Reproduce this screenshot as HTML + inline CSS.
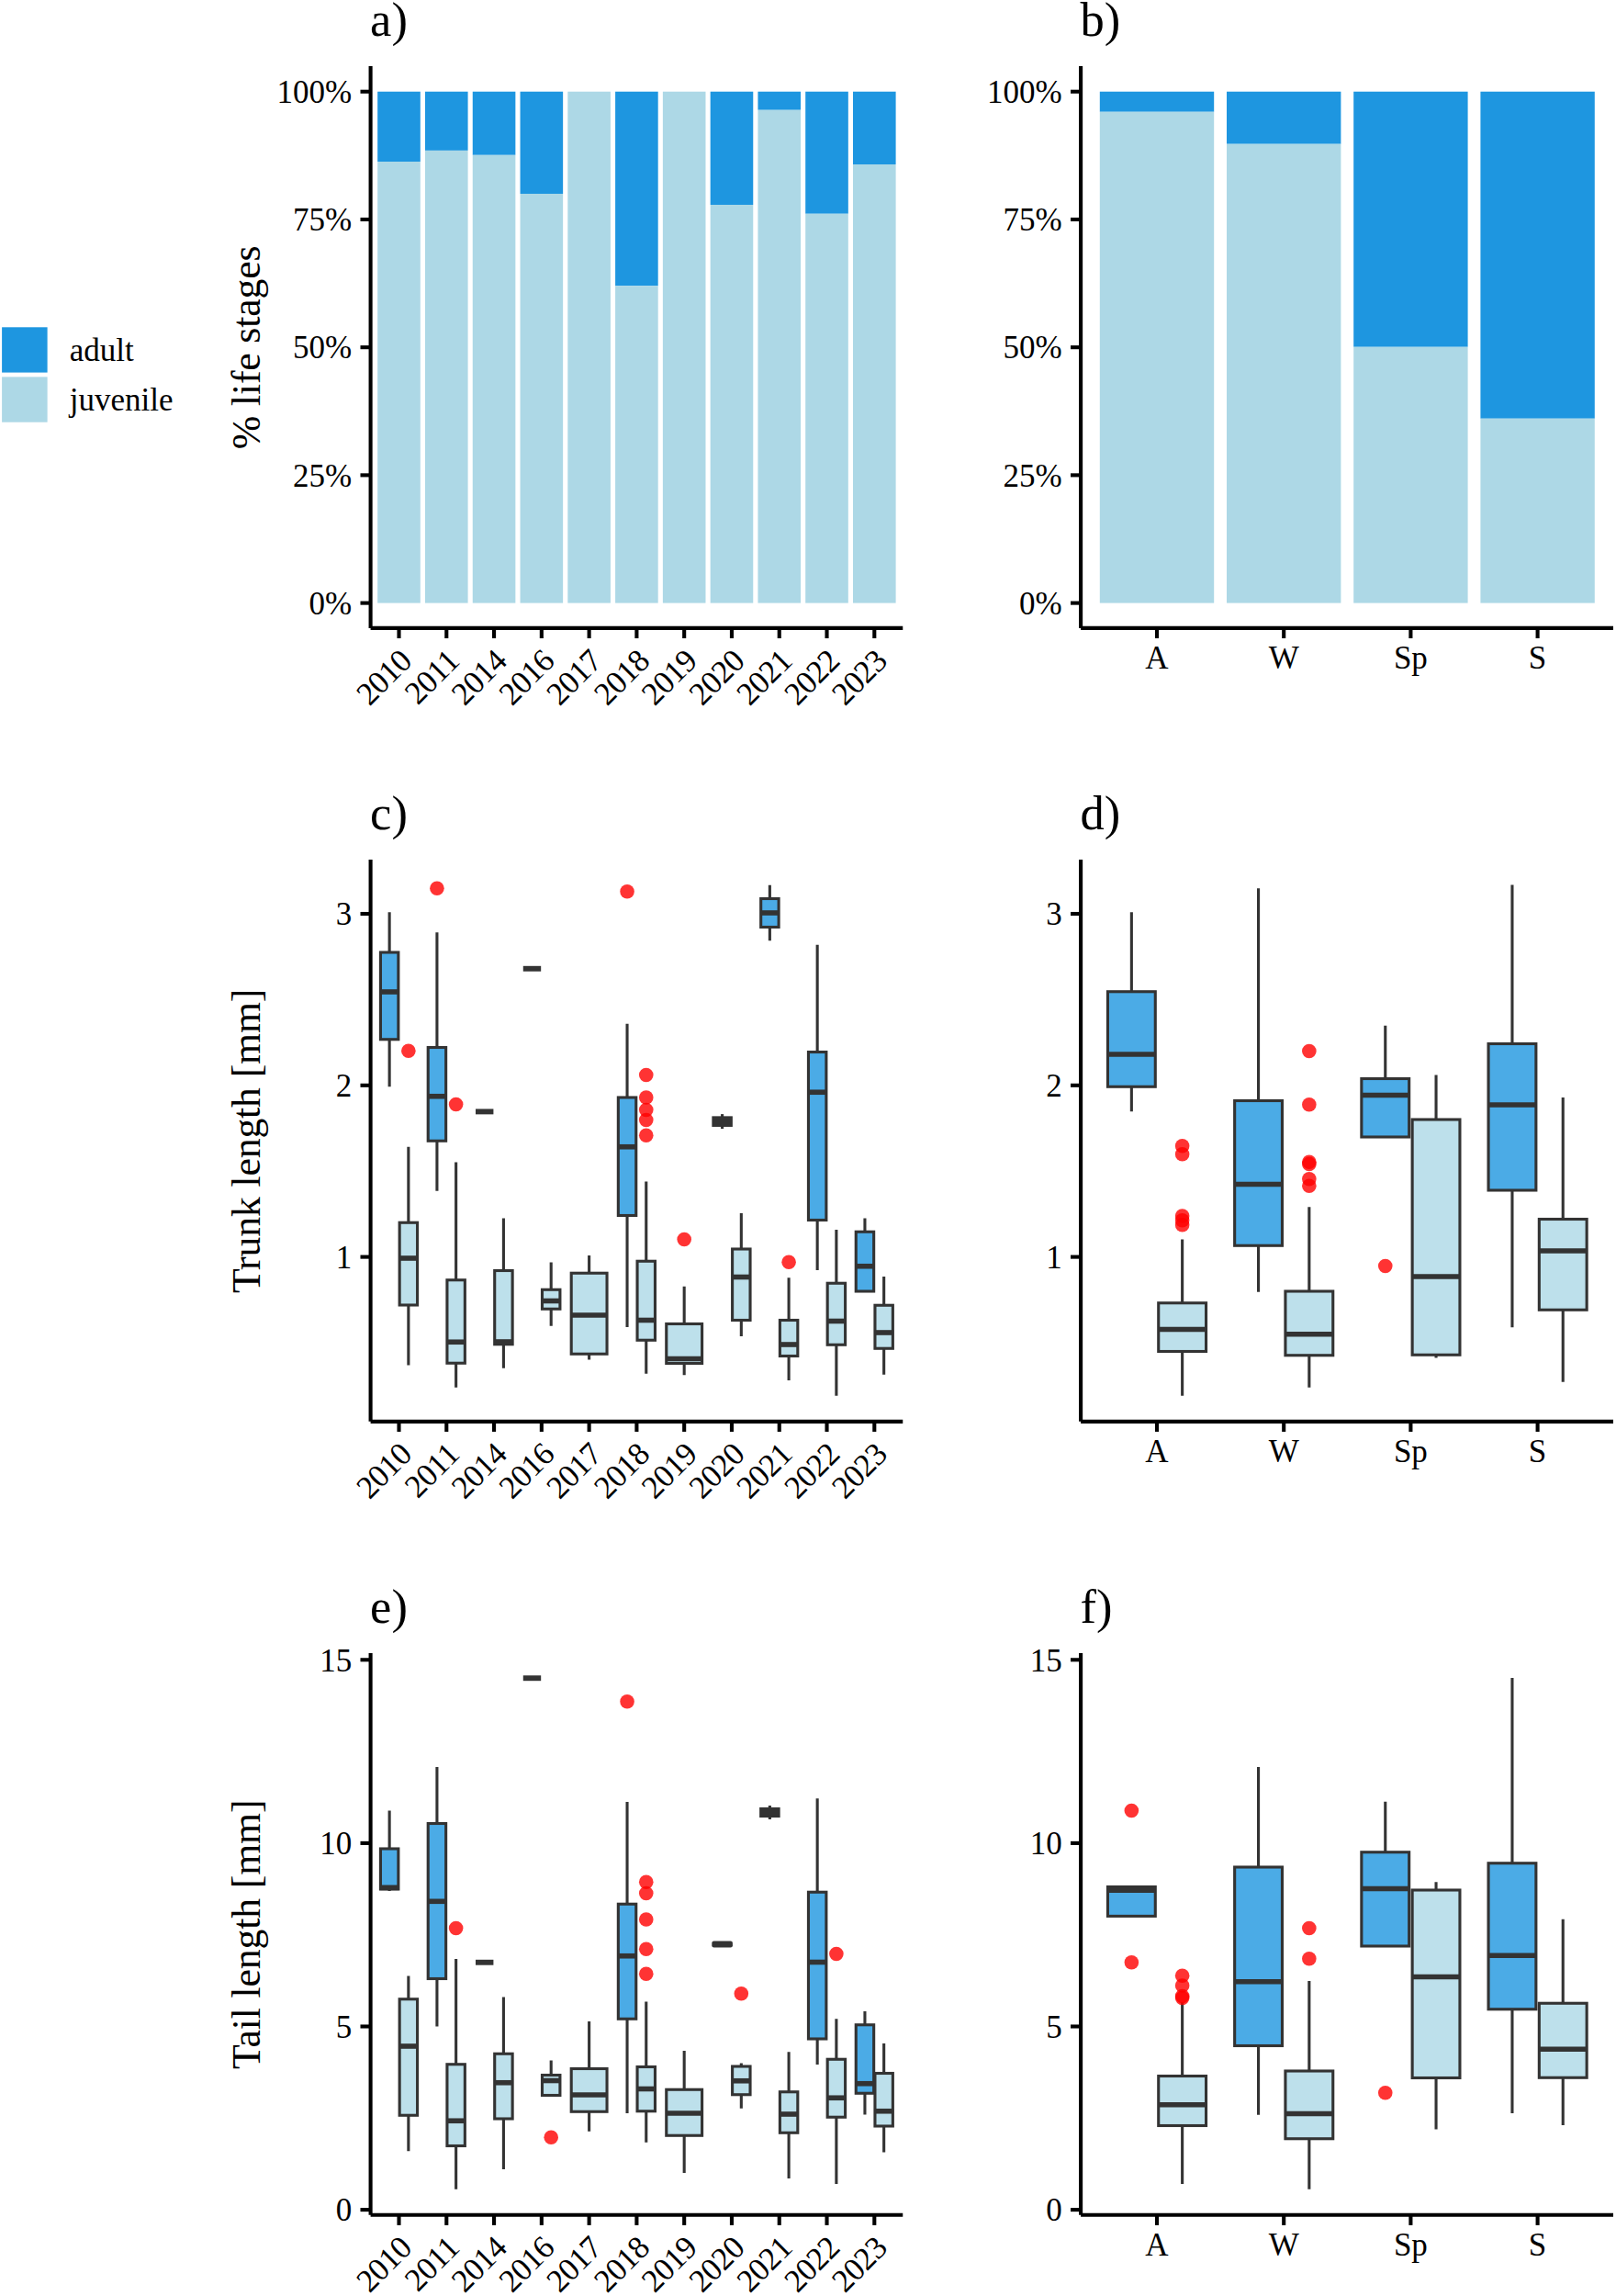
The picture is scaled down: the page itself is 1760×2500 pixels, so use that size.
<!DOCTYPE html>
<html lang="en"><head><meta charset="utf-8"><title>Life stages, trunk length and tail length by year and season</title>
<style>html,body{margin:0;padding:0;background:#fff}body{width:1760px;height:2500px;overflow:hidden}svg{display:block}text{font-family:'Liberation Serif', 'Times New Roman', serif;fill:#000}</style>
</head><body>
<svg width="1760" height="2500" viewBox="0 0 1760 2500">
<rect x="0" y="0" width="1760" height="2500" fill="#fff"/>
<rect x="2.1" y="356.3" width="49.5" height="49.3" fill="#1E96E0"/>
<rect x="2.1" y="410.4" width="49.5" height="49.3" fill="#ADD8E6"/>
<text x="75.8" y="392.9" font-size="35" text-anchor="start">adult</text>
<text x="75.8" y="446.5" font-size="35" text-anchor="start">juvenile</text>
<text x="403.1" y="39.3" font-size="52.5" text-anchor="start">a)</text>
<text x="1176.6" y="39.3" font-size="52.5" text-anchor="start">b)</text>
<text x="403.1" y="903.3" font-size="52.5" text-anchor="start">c)</text>
<text x="1176.6" y="903.3" font-size="52.5" text-anchor="start">d)</text>
<text x="403.1" y="1767.3" font-size="52.5" text-anchor="start">e)</text>
<text x="1176.6" y="1767.3" font-size="52.5" text-anchor="start">f)</text>
<text x="282.6" y="378.4" font-size="43.75" text-anchor="middle" letter-spacing="-0.15" transform="rotate(-90 282.6 378.4)">% life stages</text>
<text x="282.6" y="1242.38" font-size="43.75" text-anchor="middle" letter-spacing="-0.15" transform="rotate(-90 282.6 1242.38)">Trunk length [mm]</text>
<text x="282.6" y="2106.35" font-size="43.75" text-anchor="middle" letter-spacing="-0.15" transform="rotate(-90 282.6 2106.35)">Tail length [mm]</text>
<rect x="411.2" y="99.75" width="46.6" height="76.25" fill="#1E96E0"/>
<rect x="411.2" y="176" width="46.6" height="480.6" fill="#ADD8E6"/>
<rect x="462.98" y="99.75" width="46.6" height="64.15" fill="#1E96E0"/>
<rect x="462.98" y="163.9" width="46.6" height="492.7" fill="#ADD8E6"/>
<rect x="514.76" y="99.75" width="46.6" height="69.05" fill="#1E96E0"/>
<rect x="514.76" y="168.8" width="46.6" height="487.8" fill="#ADD8E6"/>
<rect x="566.54" y="99.75" width="46.6" height="111.25" fill="#1E96E0"/>
<rect x="566.54" y="211" width="46.6" height="445.6" fill="#ADD8E6"/>
<rect x="618.32" y="99.75" width="46.6" height="556.85" fill="#ADD8E6"/>
<rect x="670.1" y="99.75" width="46.6" height="211.5" fill="#1E96E0"/>
<rect x="670.1" y="311.25" width="46.6" height="345.35" fill="#ADD8E6"/>
<rect x="721.88" y="99.75" width="46.6" height="556.85" fill="#ADD8E6"/>
<rect x="773.66" y="99.75" width="46.6" height="123.25" fill="#1E96E0"/>
<rect x="773.66" y="223" width="46.6" height="433.6" fill="#ADD8E6"/>
<rect x="825.44" y="99.75" width="46.6" height="20" fill="#1E96E0"/>
<rect x="825.44" y="119.75" width="46.6" height="536.85" fill="#ADD8E6"/>
<rect x="877.22" y="99.75" width="46.6" height="133" fill="#1E96E0"/>
<rect x="877.22" y="232.75" width="46.6" height="423.85" fill="#ADD8E6"/>
<rect x="929" y="99.75" width="46.6" height="79.25" fill="#1E96E0"/>
<rect x="929" y="179" width="46.6" height="477.6" fill="#ADD8E6"/>
<line x1="403.6" y1="72.1" x2="403.6" y2="683.9" stroke="#000" stroke-width="4.1" stroke-linecap="butt"/>
<line x1="403.6" y1="683.9" x2="983.25" y2="683.9" stroke="#000" stroke-width="4.1" stroke-linecap="butt"/>
<line x1="392.5" y1="656.6" x2="403.6" y2="656.6" stroke="#000" stroke-width="4.1" stroke-linecap="butt"/>
<text x="383.2" y="668.8" font-size="35" text-anchor="end">0%</text>
<line x1="392.5" y1="517.39" x2="403.6" y2="517.39" stroke="#000" stroke-width="4.1" stroke-linecap="butt"/>
<text x="383.2" y="529.59" font-size="35" text-anchor="end">25%</text>
<line x1="392.5" y1="378.18" x2="403.6" y2="378.18" stroke="#000" stroke-width="4.1" stroke-linecap="butt"/>
<text x="383.2" y="390.38" font-size="35" text-anchor="end">50%</text>
<line x1="392.5" y1="238.96" x2="403.6" y2="238.96" stroke="#000" stroke-width="4.1" stroke-linecap="butt"/>
<text x="383.2" y="251.16" font-size="35" text-anchor="end">75%</text>
<line x1="392.5" y1="99.75" x2="403.6" y2="99.75" stroke="#000" stroke-width="4.1" stroke-linecap="butt"/>
<text x="383.2" y="111.95" font-size="35" text-anchor="end">100%</text>
<line x1="434.5" y1="683.9" x2="434.5" y2="695" stroke="#000" stroke-width="4.1" stroke-linecap="butt"/>
<text x="450.2" y="721.7" font-size="35" text-anchor="end" letter-spacing="-0.6" transform="rotate(-45 450.2 721.7)">2010</text>
<line x1="486.28" y1="683.9" x2="486.28" y2="695" stroke="#000" stroke-width="4.1" stroke-linecap="butt"/>
<text x="501.98" y="721.7" font-size="35" text-anchor="end" letter-spacing="-0.6" transform="rotate(-45 501.98 721.7)">2011</text>
<line x1="538.06" y1="683.9" x2="538.06" y2="695" stroke="#000" stroke-width="4.1" stroke-linecap="butt"/>
<text x="553.76" y="721.7" font-size="35" text-anchor="end" letter-spacing="-0.6" transform="rotate(-45 553.76 721.7)">2014</text>
<line x1="589.84" y1="683.9" x2="589.84" y2="695" stroke="#000" stroke-width="4.1" stroke-linecap="butt"/>
<text x="605.54" y="721.7" font-size="35" text-anchor="end" letter-spacing="-0.6" transform="rotate(-45 605.54 721.7)">2016</text>
<line x1="641.62" y1="683.9" x2="641.62" y2="695" stroke="#000" stroke-width="4.1" stroke-linecap="butt"/>
<text x="657.32" y="721.7" font-size="35" text-anchor="end" letter-spacing="-0.6" transform="rotate(-45 657.32 721.7)">2017</text>
<line x1="693.4" y1="683.9" x2="693.4" y2="695" stroke="#000" stroke-width="4.1" stroke-linecap="butt"/>
<text x="709.1" y="721.7" font-size="35" text-anchor="end" letter-spacing="-0.6" transform="rotate(-45 709.1 721.7)">2018</text>
<line x1="745.18" y1="683.9" x2="745.18" y2="695" stroke="#000" stroke-width="4.1" stroke-linecap="butt"/>
<text x="760.88" y="721.7" font-size="35" text-anchor="end" letter-spacing="-0.6" transform="rotate(-45 760.88 721.7)">2019</text>
<line x1="796.96" y1="683.9" x2="796.96" y2="695" stroke="#000" stroke-width="4.1" stroke-linecap="butt"/>
<text x="812.66" y="721.7" font-size="35" text-anchor="end" letter-spacing="-0.6" transform="rotate(-45 812.66 721.7)">2020</text>
<line x1="848.74" y1="683.9" x2="848.74" y2="695" stroke="#000" stroke-width="4.1" stroke-linecap="butt"/>
<text x="864.44" y="721.7" font-size="35" text-anchor="end" letter-spacing="-0.6" transform="rotate(-45 864.44 721.7)">2021</text>
<line x1="900.52" y1="683.9" x2="900.52" y2="695" stroke="#000" stroke-width="4.1" stroke-linecap="butt"/>
<text x="916.22" y="721.7" font-size="35" text-anchor="end" letter-spacing="-0.6" transform="rotate(-45 916.22 721.7)">2022</text>
<line x1="952.3" y1="683.9" x2="952.3" y2="695" stroke="#000" stroke-width="4.1" stroke-linecap="butt"/>
<text x="968" y="721.7" font-size="35" text-anchor="end" letter-spacing="-0.6" transform="rotate(-45 968 721.7)">2023</text>
<rect x="1197.81" y="99.75" width="124.38" height="22" fill="#1E96E0"/>
<rect x="1197.81" y="121.75" width="124.38" height="534.85" fill="#ADD8E6"/>
<rect x="1336.01" y="99.75" width="124.38" height="57" fill="#1E96E0"/>
<rect x="1336.01" y="156.75" width="124.38" height="499.85" fill="#ADD8E6"/>
<rect x="1474.21" y="99.75" width="124.38" height="278" fill="#1E96E0"/>
<rect x="1474.21" y="377.75" width="124.38" height="278.85" fill="#ADD8E6"/>
<rect x="1612.41" y="99.75" width="124.38" height="356" fill="#1E96E0"/>
<rect x="1612.41" y="455.75" width="124.38" height="200.85" fill="#ADD8E6"/>
<line x1="1177.1" y1="72.1" x2="1177.1" y2="683.9" stroke="#000" stroke-width="4.1" stroke-linecap="butt"/>
<line x1="1177.1" y1="683.9" x2="1757" y2="683.9" stroke="#000" stroke-width="4.1" stroke-linecap="butt"/>
<line x1="1166" y1="656.6" x2="1177.1" y2="656.6" stroke="#000" stroke-width="4.1" stroke-linecap="butt"/>
<text x="1156.7" y="668.8" font-size="35" text-anchor="end">0%</text>
<line x1="1166" y1="517.39" x2="1177.1" y2="517.39" stroke="#000" stroke-width="4.1" stroke-linecap="butt"/>
<text x="1156.7" y="529.59" font-size="35" text-anchor="end">25%</text>
<line x1="1166" y1="378.18" x2="1177.1" y2="378.18" stroke="#000" stroke-width="4.1" stroke-linecap="butt"/>
<text x="1156.7" y="390.38" font-size="35" text-anchor="end">50%</text>
<line x1="1166" y1="238.96" x2="1177.1" y2="238.96" stroke="#000" stroke-width="4.1" stroke-linecap="butt"/>
<text x="1156.7" y="251.16" font-size="35" text-anchor="end">75%</text>
<line x1="1166" y1="99.75" x2="1177.1" y2="99.75" stroke="#000" stroke-width="4.1" stroke-linecap="butt"/>
<text x="1156.7" y="111.95" font-size="35" text-anchor="end">100%</text>
<line x1="1260" y1="683.9" x2="1260" y2="695" stroke="#000" stroke-width="4.1" stroke-linecap="butt"/>
<text x="1260" y="727.8" font-size="35" text-anchor="middle">A</text>
<line x1="1398.2" y1="683.9" x2="1398.2" y2="695" stroke="#000" stroke-width="4.1" stroke-linecap="butt"/>
<text x="1398.2" y="727.8" font-size="35" text-anchor="middle">W</text>
<line x1="1536.4" y1="683.9" x2="1536.4" y2="695" stroke="#000" stroke-width="4.1" stroke-linecap="butt"/>
<text x="1536.4" y="727.8" font-size="35" text-anchor="middle">Sp</text>
<line x1="1674.6" y1="683.9" x2="1674.6" y2="695" stroke="#000" stroke-width="4.1" stroke-linecap="butt"/>
<text x="1674.6" y="727.8" font-size="35" text-anchor="middle">S</text>
<line x1="424.14" y1="993.25" x2="424.14" y2="1037" stroke="#333333" stroke-width="3.1" stroke-linecap="butt"/>
<line x1="424.14" y1="1131.75" x2="424.14" y2="1183.25" stroke="#333333" stroke-width="3.1" stroke-linecap="butt"/>
<rect x="414.44" y="1037" width="19.42" height="94.75" fill="#1E96E0" fill-opacity="0.8" stroke="#333333" stroke-width="3.1" stroke-linejoin="miter"/>
<line x1="414.44" y1="1080" x2="433.85" y2="1080" stroke="#333333" stroke-width="5.6" stroke-linecap="butt"/>
<line x1="444.86" y1="1248.75" x2="444.86" y2="1331.25" stroke="#333333" stroke-width="3.1" stroke-linecap="butt"/>
<line x1="444.86" y1="1421" x2="444.86" y2="1486.5" stroke="#333333" stroke-width="3.1" stroke-linecap="butt"/>
<rect x="435.15" y="1331.25" width="19.42" height="89.75" fill="#ADD8E6" fill-opacity="0.8" stroke="#333333" stroke-width="3.1" stroke-linejoin="miter"/>
<line x1="435.15" y1="1370" x2="454.56" y2="1370" stroke="#333333" stroke-width="5.6" stroke-linecap="butt"/>
<circle cx="444.86" cy="1144.25" r="7.8" fill="#FF0000" fill-opacity="0.8"/>
<line x1="475.92" y1="1015.25" x2="475.92" y2="1140.5" stroke="#333333" stroke-width="3.1" stroke-linecap="butt"/>
<line x1="475.92" y1="1242.25" x2="475.92" y2="1296.75" stroke="#333333" stroke-width="3.1" stroke-linecap="butt"/>
<rect x="466.22" y="1140.5" width="19.42" height="101.75" fill="#1E96E0" fill-opacity="0.8" stroke="#333333" stroke-width="3.1" stroke-linejoin="miter"/>
<line x1="466.22" y1="1193.75" x2="485.63" y2="1193.75" stroke="#333333" stroke-width="5.6" stroke-linecap="butt"/>
<circle cx="475.92" cy="967.25" r="7.8" fill="#FF0000" fill-opacity="0.8"/>
<line x1="496.64" y1="1265.5" x2="496.64" y2="1393.75" stroke="#333333" stroke-width="3.1" stroke-linecap="butt"/>
<line x1="496.64" y1="1484.25" x2="496.64" y2="1510.75" stroke="#333333" stroke-width="3.1" stroke-linecap="butt"/>
<rect x="486.93" y="1393.75" width="19.42" height="90.5" fill="#ADD8E6" fill-opacity="0.8" stroke="#333333" stroke-width="3.1" stroke-linejoin="miter"/>
<line x1="486.93" y1="1461.25" x2="506.34" y2="1461.25" stroke="#333333" stroke-width="5.6" stroke-linecap="butt"/>
<circle cx="496.64" cy="1202.5" r="7.8" fill="#FF0000" fill-opacity="0.8"/>
<line x1="518" y1="1210.4" x2="537.41" y2="1210.4" stroke="#333333" stroke-width="5.9" stroke-linecap="butt"/>
<line x1="548.42" y1="1326.5" x2="548.42" y2="1383.5" stroke="#333333" stroke-width="3.1" stroke-linecap="butt"/>
<line x1="548.42" y1="1463.75" x2="548.42" y2="1489.75" stroke="#333333" stroke-width="3.1" stroke-linecap="butt"/>
<rect x="538.71" y="1383.5" width="19.42" height="80.25" fill="#ADD8E6" fill-opacity="0.8" stroke="#333333" stroke-width="3.1" stroke-linejoin="miter"/>
<line x1="538.71" y1="1461" x2="558.12" y2="1461" stroke="#333333" stroke-width="5.6" stroke-linecap="butt"/>
<line x1="569.78" y1="1054.75" x2="589.19" y2="1054.75" stroke="#333333" stroke-width="5.9" stroke-linecap="butt"/>
<line x1="600.2" y1="1374.5" x2="600.2" y2="1404.25" stroke="#333333" stroke-width="3.1" stroke-linecap="butt"/>
<line x1="600.2" y1="1425.25" x2="600.2" y2="1443.75" stroke="#333333" stroke-width="3.1" stroke-linecap="butt"/>
<rect x="590.49" y="1404.25" width="19.42" height="21" fill="#ADD8E6" fill-opacity="0.8" stroke="#333333" stroke-width="3.1" stroke-linejoin="miter"/>
<line x1="590.49" y1="1416.5" x2="609.9" y2="1416.5" stroke="#333333" stroke-width="5.6" stroke-linecap="butt"/>
<line x1="641.62" y1="1367" x2="641.62" y2="1386.25" stroke="#333333" stroke-width="3.1" stroke-linecap="butt"/>
<line x1="641.62" y1="1474.25" x2="641.62" y2="1480.5" stroke="#333333" stroke-width="3.1" stroke-linecap="butt"/>
<rect x="622.2" y="1386.25" width="38.84" height="88" fill="#ADD8E6" fill-opacity="0.8" stroke="#333333" stroke-width="3.1" stroke-linejoin="miter"/>
<line x1="622.2" y1="1432" x2="661.04" y2="1432" stroke="#333333" stroke-width="5.6" stroke-linecap="butt"/>
<line x1="683.04" y1="1114.75" x2="683.04" y2="1195" stroke="#333333" stroke-width="3.1" stroke-linecap="butt"/>
<line x1="683.04" y1="1323.5" x2="683.04" y2="1445" stroke="#333333" stroke-width="3.1" stroke-linecap="butt"/>
<rect x="673.34" y="1195" width="19.42" height="128.5" fill="#1E96E0" fill-opacity="0.8" stroke="#333333" stroke-width="3.1" stroke-linejoin="miter"/>
<line x1="673.34" y1="1248.75" x2="692.75" y2="1248.75" stroke="#333333" stroke-width="5.6" stroke-linecap="butt"/>
<circle cx="683.04" cy="970.75" r="7.8" fill="#FF0000" fill-opacity="0.8"/>
<line x1="703.76" y1="1286.5" x2="703.76" y2="1373.25" stroke="#333333" stroke-width="3.1" stroke-linecap="butt"/>
<line x1="703.76" y1="1459.25" x2="703.76" y2="1495.75" stroke="#333333" stroke-width="3.1" stroke-linecap="butt"/>
<rect x="694.05" y="1373.25" width="19.42" height="86" fill="#ADD8E6" fill-opacity="0.8" stroke="#333333" stroke-width="3.1" stroke-linejoin="miter"/>
<line x1="694.05" y1="1437.5" x2="713.46" y2="1437.5" stroke="#333333" stroke-width="5.6" stroke-linecap="butt"/>
<circle cx="703.76" cy="1170.5" r="7.8" fill="#FF0000" fill-opacity="0.8"/>
<circle cx="703.76" cy="1195" r="7.8" fill="#FF0000" fill-opacity="0.8"/>
<circle cx="703.76" cy="1208.5" r="7.8" fill="#FF0000" fill-opacity="0.8"/>
<circle cx="703.76" cy="1219.5" r="7.8" fill="#FF0000" fill-opacity="0.8"/>
<circle cx="703.76" cy="1236.2" r="7.8" fill="#FF0000" fill-opacity="0.8"/>
<line x1="745.18" y1="1400.75" x2="745.18" y2="1441.5" stroke="#333333" stroke-width="3.1" stroke-linecap="butt"/>
<line x1="745.18" y1="1484.5" x2="745.18" y2="1497.25" stroke="#333333" stroke-width="3.1" stroke-linecap="butt"/>
<rect x="725.76" y="1441.5" width="38.84" height="43" fill="#ADD8E6" fill-opacity="0.8" stroke="#333333" stroke-width="3.1" stroke-linejoin="miter"/>
<line x1="725.76" y1="1479.5" x2="764.6" y2="1479.5" stroke="#333333" stroke-width="5.6" stroke-linecap="butt"/>
<circle cx="745.18" cy="1349.5" r="7.8" fill="#FF0000" fill-opacity="0.8"/>
<line x1="786.6" y1="1213.1" x2="786.6" y2="1216.9" stroke="#333333" stroke-width="3.1" stroke-linecap="butt"/>
<line x1="786.6" y1="1225.4" x2="786.6" y2="1229.1" stroke="#333333" stroke-width="3.1" stroke-linecap="butt"/>
<rect x="776.9" y="1216.9" width="19.42" height="8.5" fill="#333333" fill-opacity="1" stroke="#333333" stroke-width="3.1" stroke-linejoin="miter"/>
<line x1="776.9" y1="1221.2" x2="796.31" y2="1221.2" stroke="#333333" stroke-width="5.6" stroke-linecap="butt"/>
<line x1="807.32" y1="1321" x2="807.32" y2="1360" stroke="#333333" stroke-width="3.1" stroke-linecap="butt"/>
<line x1="807.32" y1="1437.5" x2="807.32" y2="1455" stroke="#333333" stroke-width="3.1" stroke-linecap="butt"/>
<rect x="797.61" y="1360" width="19.42" height="77.5" fill="#ADD8E6" fill-opacity="0.8" stroke="#333333" stroke-width="3.1" stroke-linejoin="miter"/>
<line x1="797.61" y1="1390.5" x2="817.02" y2="1390.5" stroke="#333333" stroke-width="5.6" stroke-linecap="butt"/>
<line x1="838.38" y1="963.75" x2="838.38" y2="978.5" stroke="#333333" stroke-width="3.1" stroke-linecap="butt"/>
<line x1="838.38" y1="1009.5" x2="838.38" y2="1024.25" stroke="#333333" stroke-width="3.1" stroke-linecap="butt"/>
<rect x="828.68" y="978.5" width="19.42" height="31" fill="#1E96E0" fill-opacity="0.8" stroke="#333333" stroke-width="3.1" stroke-linejoin="miter"/>
<line x1="828.68" y1="994" x2="848.09" y2="994" stroke="#333333" stroke-width="5.6" stroke-linecap="butt"/>
<line x1="859.1" y1="1391.25" x2="859.1" y2="1437.5" stroke="#333333" stroke-width="3.1" stroke-linecap="butt"/>
<line x1="859.1" y1="1476.5" x2="859.1" y2="1503" stroke="#333333" stroke-width="3.1" stroke-linecap="butt"/>
<rect x="849.39" y="1437.5" width="19.42" height="39" fill="#ADD8E6" fill-opacity="0.8" stroke="#333333" stroke-width="3.1" stroke-linejoin="miter"/>
<line x1="849.39" y1="1464" x2="868.8" y2="1464" stroke="#333333" stroke-width="5.6" stroke-linecap="butt"/>
<circle cx="859.1" cy="1374.25" r="7.8" fill="#FF0000" fill-opacity="0.8"/>
<line x1="890.16" y1="1028.75" x2="890.16" y2="1145.5" stroke="#333333" stroke-width="3.1" stroke-linecap="butt"/>
<line x1="890.16" y1="1328.5" x2="890.16" y2="1383" stroke="#333333" stroke-width="3.1" stroke-linecap="butt"/>
<rect x="880.46" y="1145.5" width="19.42" height="183" fill="#1E96E0" fill-opacity="0.8" stroke="#333333" stroke-width="3.1" stroke-linejoin="miter"/>
<line x1="880.46" y1="1189.25" x2="899.87" y2="1189.25" stroke="#333333" stroke-width="5.6" stroke-linecap="butt"/>
<line x1="910.88" y1="1339" x2="910.88" y2="1397.25" stroke="#333333" stroke-width="3.1" stroke-linecap="butt"/>
<line x1="910.88" y1="1464.25" x2="910.88" y2="1519.75" stroke="#333333" stroke-width="3.1" stroke-linecap="butt"/>
<rect x="901.17" y="1397.25" width="19.42" height="67" fill="#ADD8E6" fill-opacity="0.8" stroke="#333333" stroke-width="3.1" stroke-linejoin="miter"/>
<line x1="901.17" y1="1438.5" x2="920.58" y2="1438.5" stroke="#333333" stroke-width="5.6" stroke-linecap="butt"/>
<line x1="941.94" y1="1326.5" x2="941.94" y2="1341.25" stroke="#333333" stroke-width="3.1" stroke-linecap="butt"/>
<rect x="932.24" y="1341.25" width="19.42" height="64.75" fill="#1E96E0" fill-opacity="0.8" stroke="#333333" stroke-width="3.1" stroke-linejoin="miter"/>
<line x1="932.24" y1="1378.75" x2="951.65" y2="1378.75" stroke="#333333" stroke-width="5.6" stroke-linecap="butt"/>
<line x1="962.66" y1="1390" x2="962.66" y2="1421.25" stroke="#333333" stroke-width="3.1" stroke-linecap="butt"/>
<line x1="962.66" y1="1468.25" x2="962.66" y2="1496.75" stroke="#333333" stroke-width="3.1" stroke-linecap="butt"/>
<rect x="952.95" y="1421.25" width="19.42" height="47" fill="#ADD8E6" fill-opacity="0.8" stroke="#333333" stroke-width="3.1" stroke-linejoin="miter"/>
<line x1="952.95" y1="1451" x2="972.36" y2="1451" stroke="#333333" stroke-width="5.6" stroke-linecap="butt"/>
<line x1="403.6" y1="936.1" x2="403.6" y2="1547.85" stroke="#000" stroke-width="4.1" stroke-linecap="butt"/>
<line x1="403.6" y1="1547.85" x2="983.25" y2="1547.85" stroke="#000" stroke-width="4.1" stroke-linecap="butt"/>
<line x1="392.5" y1="995" x2="403.6" y2="995" stroke="#000" stroke-width="4.1" stroke-linecap="butt"/>
<text x="383.2" y="1007.2" font-size="35" text-anchor="end">3</text>
<line x1="392.5" y1="1181.8" x2="403.6" y2="1181.8" stroke="#000" stroke-width="4.1" stroke-linecap="butt"/>
<text x="383.2" y="1194" font-size="35" text-anchor="end">2</text>
<line x1="392.5" y1="1368.6" x2="403.6" y2="1368.6" stroke="#000" stroke-width="4.1" stroke-linecap="butt"/>
<text x="383.2" y="1380.8" font-size="35" text-anchor="end">1</text>
<line x1="434.5" y1="1547.85" x2="434.5" y2="1558.95" stroke="#000" stroke-width="4.1" stroke-linecap="butt"/>
<text x="450.2" y="1585.65" font-size="35" text-anchor="end" letter-spacing="-0.6" transform="rotate(-45 450.2 1585.65)">2010</text>
<line x1="486.28" y1="1547.85" x2="486.28" y2="1558.95" stroke="#000" stroke-width="4.1" stroke-linecap="butt"/>
<text x="501.98" y="1585.65" font-size="35" text-anchor="end" letter-spacing="-0.6" transform="rotate(-45 501.98 1585.65)">2011</text>
<line x1="538.06" y1="1547.85" x2="538.06" y2="1558.95" stroke="#000" stroke-width="4.1" stroke-linecap="butt"/>
<text x="553.76" y="1585.65" font-size="35" text-anchor="end" letter-spacing="-0.6" transform="rotate(-45 553.76 1585.65)">2014</text>
<line x1="589.84" y1="1547.85" x2="589.84" y2="1558.95" stroke="#000" stroke-width="4.1" stroke-linecap="butt"/>
<text x="605.54" y="1585.65" font-size="35" text-anchor="end" letter-spacing="-0.6" transform="rotate(-45 605.54 1585.65)">2016</text>
<line x1="641.62" y1="1547.85" x2="641.62" y2="1558.95" stroke="#000" stroke-width="4.1" stroke-linecap="butt"/>
<text x="657.32" y="1585.65" font-size="35" text-anchor="end" letter-spacing="-0.6" transform="rotate(-45 657.32 1585.65)">2017</text>
<line x1="693.4" y1="1547.85" x2="693.4" y2="1558.95" stroke="#000" stroke-width="4.1" stroke-linecap="butt"/>
<text x="709.1" y="1585.65" font-size="35" text-anchor="end" letter-spacing="-0.6" transform="rotate(-45 709.1 1585.65)">2018</text>
<line x1="745.18" y1="1547.85" x2="745.18" y2="1558.95" stroke="#000" stroke-width="4.1" stroke-linecap="butt"/>
<text x="760.88" y="1585.65" font-size="35" text-anchor="end" letter-spacing="-0.6" transform="rotate(-45 760.88 1585.65)">2019</text>
<line x1="796.96" y1="1547.85" x2="796.96" y2="1558.95" stroke="#000" stroke-width="4.1" stroke-linecap="butt"/>
<text x="812.66" y="1585.65" font-size="35" text-anchor="end" letter-spacing="-0.6" transform="rotate(-45 812.66 1585.65)">2020</text>
<line x1="848.74" y1="1547.85" x2="848.74" y2="1558.95" stroke="#000" stroke-width="4.1" stroke-linecap="butt"/>
<text x="864.44" y="1585.65" font-size="35" text-anchor="end" letter-spacing="-0.6" transform="rotate(-45 864.44 1585.65)">2021</text>
<line x1="900.52" y1="1547.85" x2="900.52" y2="1558.95" stroke="#000" stroke-width="4.1" stroke-linecap="butt"/>
<text x="916.22" y="1585.65" font-size="35" text-anchor="end" letter-spacing="-0.6" transform="rotate(-45 916.22 1585.65)">2022</text>
<line x1="952.3" y1="1547.85" x2="952.3" y2="1558.95" stroke="#000" stroke-width="4.1" stroke-linecap="butt"/>
<text x="968" y="1585.65" font-size="35" text-anchor="end" letter-spacing="-0.6" transform="rotate(-45 968 1585.65)">2023</text>
<line x1="1232.36" y1="993.25" x2="1232.36" y2="1079.75" stroke="#333333" stroke-width="3.1" stroke-linecap="butt"/>
<line x1="1232.36" y1="1183.25" x2="1232.36" y2="1210.25" stroke="#333333" stroke-width="3.1" stroke-linecap="butt"/>
<rect x="1206.45" y="1079.75" width="51.82" height="103.5" fill="#1E96E0" fill-opacity="0.8" stroke="#333333" stroke-width="3.1" stroke-linejoin="miter"/>
<line x1="1206.45" y1="1148" x2="1258.27" y2="1148" stroke="#333333" stroke-width="5.6" stroke-linecap="butt"/>
<line x1="1287.64" y1="1349.5" x2="1287.64" y2="1418.75" stroke="#333333" stroke-width="3.1" stroke-linecap="butt"/>
<line x1="1287.64" y1="1471.5" x2="1287.64" y2="1519.75" stroke="#333333" stroke-width="3.1" stroke-linecap="butt"/>
<rect x="1261.73" y="1418.75" width="51.82" height="52.75" fill="#ADD8E6" fill-opacity="0.8" stroke="#333333" stroke-width="3.1" stroke-linejoin="miter"/>
<line x1="1261.73" y1="1447.5" x2="1313.55" y2="1447.5" stroke="#333333" stroke-width="5.6" stroke-linecap="butt"/>
<circle cx="1287.64" cy="1247.75" r="7.8" fill="#FF0000" fill-opacity="0.8"/>
<circle cx="1287.64" cy="1256.75" r="7.8" fill="#FF0000" fill-opacity="0.8"/>
<circle cx="1287.64" cy="1324" r="7.8" fill="#FF0000" fill-opacity="0.8"/>
<circle cx="1287.64" cy="1328.75" r="7.8" fill="#FF0000" fill-opacity="0.8"/>
<circle cx="1287.64" cy="1333.75" r="7.8" fill="#FF0000" fill-opacity="0.8"/>
<line x1="1370.56" y1="967.25" x2="1370.56" y2="1198.5" stroke="#333333" stroke-width="3.1" stroke-linecap="butt"/>
<line x1="1370.56" y1="1356.25" x2="1370.56" y2="1406.75" stroke="#333333" stroke-width="3.1" stroke-linecap="butt"/>
<rect x="1344.65" y="1198.5" width="51.82" height="157.75" fill="#1E96E0" fill-opacity="0.8" stroke="#333333" stroke-width="3.1" stroke-linejoin="miter"/>
<line x1="1344.65" y1="1289.5" x2="1396.47" y2="1289.5" stroke="#333333" stroke-width="5.6" stroke-linecap="butt"/>
<line x1="1425.84" y1="1314.25" x2="1425.84" y2="1406" stroke="#333333" stroke-width="3.1" stroke-linecap="butt"/>
<line x1="1425.84" y1="1475.75" x2="1425.84" y2="1510.75" stroke="#333333" stroke-width="3.1" stroke-linecap="butt"/>
<rect x="1399.93" y="1406" width="51.82" height="69.75" fill="#ADD8E6" fill-opacity="0.8" stroke="#333333" stroke-width="3.1" stroke-linejoin="miter"/>
<line x1="1399.93" y1="1452.75" x2="1451.75" y2="1452.75" stroke="#333333" stroke-width="5.6" stroke-linecap="butt"/>
<circle cx="1425.84" cy="1144.5" r="7.8" fill="#FF0000" fill-opacity="0.8"/>
<circle cx="1425.84" cy="1202.75" r="7.8" fill="#FF0000" fill-opacity="0.8"/>
<circle cx="1425.84" cy="1265.2" r="7.8" fill="#FF0000" fill-opacity="0.8"/>
<circle cx="1425.84" cy="1267.4" r="7.8" fill="#FF0000" fill-opacity="0.8"/>
<circle cx="1425.84" cy="1283.75" r="7.8" fill="#FF0000" fill-opacity="0.8"/>
<circle cx="1425.84" cy="1291.25" r="7.8" fill="#FF0000" fill-opacity="0.8"/>
<line x1="1508.76" y1="1116.75" x2="1508.76" y2="1174.5" stroke="#333333" stroke-width="3.1" stroke-linecap="butt"/>
<rect x="1482.85" y="1174.5" width="51.82" height="63.5" fill="#1E96E0" fill-opacity="0.8" stroke="#333333" stroke-width="3.1" stroke-linejoin="miter"/>
<line x1="1482.85" y1="1192.5" x2="1534.67" y2="1192.5" stroke="#333333" stroke-width="5.6" stroke-linecap="butt"/>
<circle cx="1508.76" cy="1378.5" r="7.8" fill="#FF0000" fill-opacity="0.8"/>
<line x1="1564.04" y1="1170.5" x2="1564.04" y2="1219" stroke="#333333" stroke-width="3.1" stroke-linecap="butt"/>
<line x1="1564.04" y1="1475.25" x2="1564.04" y2="1478.5" stroke="#333333" stroke-width="3.1" stroke-linecap="butt"/>
<rect x="1538.13" y="1219" width="51.82" height="256.25" fill="#ADD8E6" fill-opacity="0.8" stroke="#333333" stroke-width="3.1" stroke-linejoin="miter"/>
<line x1="1538.13" y1="1390" x2="1589.95" y2="1390" stroke="#333333" stroke-width="5.6" stroke-linecap="butt"/>
<line x1="1646.96" y1="963.5" x2="1646.96" y2="1136.5" stroke="#333333" stroke-width="3.1" stroke-linecap="butt"/>
<line x1="1646.96" y1="1296" x2="1646.96" y2="1445.25" stroke="#333333" stroke-width="3.1" stroke-linecap="butt"/>
<rect x="1621.05" y="1136.5" width="51.82" height="159.5" fill="#1E96E0" fill-opacity="0.8" stroke="#333333" stroke-width="3.1" stroke-linejoin="miter"/>
<line x1="1621.05" y1="1203" x2="1672.87" y2="1203" stroke="#333333" stroke-width="5.6" stroke-linecap="butt"/>
<line x1="1702.24" y1="1195" x2="1702.24" y2="1327.5" stroke="#333333" stroke-width="3.1" stroke-linecap="butt"/>
<line x1="1702.24" y1="1426.25" x2="1702.24" y2="1504.75" stroke="#333333" stroke-width="3.1" stroke-linecap="butt"/>
<rect x="1676.33" y="1327.5" width="51.82" height="98.75" fill="#ADD8E6" fill-opacity="0.8" stroke="#333333" stroke-width="3.1" stroke-linejoin="miter"/>
<line x1="1676.33" y1="1362" x2="1728.15" y2="1362" stroke="#333333" stroke-width="5.6" stroke-linecap="butt"/>
<line x1="1177.1" y1="936.1" x2="1177.1" y2="1547.85" stroke="#000" stroke-width="4.1" stroke-linecap="butt"/>
<line x1="1177.1" y1="1547.85" x2="1757" y2="1547.85" stroke="#000" stroke-width="4.1" stroke-linecap="butt"/>
<line x1="1166" y1="995" x2="1177.1" y2="995" stroke="#000" stroke-width="4.1" stroke-linecap="butt"/>
<text x="1156.7" y="1007.2" font-size="35" text-anchor="end">3</text>
<line x1="1166" y1="1181.8" x2="1177.1" y2="1181.8" stroke="#000" stroke-width="4.1" stroke-linecap="butt"/>
<text x="1156.7" y="1194" font-size="35" text-anchor="end">2</text>
<line x1="1166" y1="1368.6" x2="1177.1" y2="1368.6" stroke="#000" stroke-width="4.1" stroke-linecap="butt"/>
<text x="1156.7" y="1380.8" font-size="35" text-anchor="end">1</text>
<line x1="1260" y1="1547.85" x2="1260" y2="1558.95" stroke="#000" stroke-width="4.1" stroke-linecap="butt"/>
<text x="1260" y="1591.75" font-size="35" text-anchor="middle">A</text>
<line x1="1398.2" y1="1547.85" x2="1398.2" y2="1558.95" stroke="#000" stroke-width="4.1" stroke-linecap="butt"/>
<text x="1398.2" y="1591.75" font-size="35" text-anchor="middle">W</text>
<line x1="1536.4" y1="1547.85" x2="1536.4" y2="1558.95" stroke="#000" stroke-width="4.1" stroke-linecap="butt"/>
<text x="1536.4" y="1591.75" font-size="35" text-anchor="middle">Sp</text>
<line x1="1674.6" y1="1547.85" x2="1674.6" y2="1558.95" stroke="#000" stroke-width="4.1" stroke-linecap="butt"/>
<text x="1674.6" y="1591.75" font-size="35" text-anchor="middle">S</text>
<line x1="424.14" y1="1971.5" x2="424.14" y2="2013" stroke="#333333" stroke-width="3.1" stroke-linecap="butt"/>
<line x1="424.14" y1="2057" x2="424.14" y2="2059" stroke="#333333" stroke-width="3.1" stroke-linecap="butt"/>
<rect x="414.44" y="2013" width="19.42" height="44" fill="#1E96E0" fill-opacity="0.8" stroke="#333333" stroke-width="3.1" stroke-linejoin="miter"/>
<line x1="414.44" y1="2055.3" x2="433.85" y2="2055.3" stroke="#333333" stroke-width="5.6" stroke-linecap="butt"/>
<line x1="444.86" y1="2151.5" x2="444.86" y2="2176.75" stroke="#333333" stroke-width="3.1" stroke-linecap="butt"/>
<line x1="444.86" y1="2303.25" x2="444.86" y2="2342.25" stroke="#333333" stroke-width="3.1" stroke-linecap="butt"/>
<rect x="435.15" y="2176.75" width="19.42" height="126.5" fill="#ADD8E6" fill-opacity="0.8" stroke="#333333" stroke-width="3.1" stroke-linejoin="miter"/>
<line x1="435.15" y1="2228" x2="454.56" y2="2228" stroke="#333333" stroke-width="5.6" stroke-linecap="butt"/>
<line x1="475.92" y1="1924" x2="475.92" y2="1985.5" stroke="#333333" stroke-width="3.1" stroke-linecap="butt"/>
<line x1="475.92" y1="2154.5" x2="475.92" y2="2206.5" stroke="#333333" stroke-width="3.1" stroke-linecap="butt"/>
<rect x="466.22" y="1985.5" width="19.42" height="169" fill="#1E96E0" fill-opacity="0.8" stroke="#333333" stroke-width="3.1" stroke-linejoin="miter"/>
<line x1="466.22" y1="2070.3" x2="485.63" y2="2070.3" stroke="#333333" stroke-width="5.6" stroke-linecap="butt"/>
<line x1="496.64" y1="2133" x2="496.64" y2="2247.75" stroke="#333333" stroke-width="3.1" stroke-linecap="butt"/>
<line x1="496.64" y1="2336.5" x2="496.64" y2="2383.75" stroke="#333333" stroke-width="3.1" stroke-linecap="butt"/>
<rect x="486.93" y="2247.75" width="19.42" height="88.75" fill="#ADD8E6" fill-opacity="0.8" stroke="#333333" stroke-width="3.1" stroke-linejoin="miter"/>
<line x1="486.93" y1="2309.25" x2="506.34" y2="2309.25" stroke="#333333" stroke-width="5.6" stroke-linecap="butt"/>
<circle cx="496.64" cy="2099.5" r="7.8" fill="#FF0000" fill-opacity="0.8"/>
<line x1="518" y1="2136.75" x2="537.41" y2="2136.75" stroke="#333333" stroke-width="5.9" stroke-linecap="butt"/>
<line x1="548.42" y1="2174.5" x2="548.42" y2="2236.25" stroke="#333333" stroke-width="3.1" stroke-linecap="butt"/>
<line x1="548.42" y1="2307" x2="548.42" y2="2362" stroke="#333333" stroke-width="3.1" stroke-linecap="butt"/>
<rect x="538.71" y="2236.25" width="19.42" height="70.75" fill="#ADD8E6" fill-opacity="0.8" stroke="#333333" stroke-width="3.1" stroke-linejoin="miter"/>
<line x1="538.71" y1="2267.75" x2="558.12" y2="2267.75" stroke="#333333" stroke-width="5.6" stroke-linecap="butt"/>
<line x1="569.78" y1="1827.25" x2="589.19" y2="1827.25" stroke="#333333" stroke-width="5.9" stroke-linecap="butt"/>
<line x1="600.2" y1="2243.5" x2="600.2" y2="2259.5" stroke="#333333" stroke-width="3.1" stroke-linecap="butt"/>
<rect x="590.49" y="2259.5" width="19.42" height="22" fill="#ADD8E6" fill-opacity="0.8" stroke="#333333" stroke-width="3.1" stroke-linejoin="miter"/>
<line x1="590.49" y1="2265.5" x2="609.9" y2="2265.5" stroke="#333333" stroke-width="5.6" stroke-linecap="butt"/>
<circle cx="600.2" cy="2327.25" r="7.8" fill="#FF0000" fill-opacity="0.8"/>
<line x1="641.62" y1="2201" x2="641.62" y2="2252.5" stroke="#333333" stroke-width="3.1" stroke-linecap="butt"/>
<line x1="641.62" y1="2299.25" x2="641.62" y2="2320.75" stroke="#333333" stroke-width="3.1" stroke-linecap="butt"/>
<rect x="622.2" y="2252.5" width="38.84" height="46.75" fill="#ADD8E6" fill-opacity="0.8" stroke="#333333" stroke-width="3.1" stroke-linejoin="miter"/>
<line x1="622.2" y1="2281" x2="661.04" y2="2281" stroke="#333333" stroke-width="5.6" stroke-linecap="butt"/>
<line x1="683.04" y1="1962" x2="683.04" y2="2073.25" stroke="#333333" stroke-width="3.1" stroke-linecap="butt"/>
<line x1="683.04" y1="2198.25" x2="683.04" y2="2301" stroke="#333333" stroke-width="3.1" stroke-linecap="butt"/>
<rect x="673.34" y="2073.25" width="19.42" height="125" fill="#1E96E0" fill-opacity="0.8" stroke="#333333" stroke-width="3.1" stroke-linejoin="miter"/>
<line x1="673.34" y1="2129.75" x2="692.75" y2="2129.75" stroke="#333333" stroke-width="5.6" stroke-linecap="butt"/>
<circle cx="683.04" cy="1852.75" r="7.8" fill="#FF0000" fill-opacity="0.8"/>
<line x1="703.76" y1="2179.5" x2="703.76" y2="2250.5" stroke="#333333" stroke-width="3.1" stroke-linecap="butt"/>
<line x1="703.76" y1="2298.75" x2="703.76" y2="2332.75" stroke="#333333" stroke-width="3.1" stroke-linecap="butt"/>
<rect x="694.05" y="2250.5" width="19.42" height="48.25" fill="#ADD8E6" fill-opacity="0.8" stroke="#333333" stroke-width="3.1" stroke-linejoin="miter"/>
<line x1="694.05" y1="2274.5" x2="713.46" y2="2274.5" stroke="#333333" stroke-width="5.6" stroke-linecap="butt"/>
<circle cx="703.76" cy="2049.25" r="7.8" fill="#FF0000" fill-opacity="0.8"/>
<circle cx="703.76" cy="2061.5" r="7.8" fill="#FF0000" fill-opacity="0.8"/>
<circle cx="703.76" cy="2090" r="7.8" fill="#FF0000" fill-opacity="0.8"/>
<circle cx="703.76" cy="2122.25" r="7.8" fill="#FF0000" fill-opacity="0.8"/>
<circle cx="703.76" cy="2149.25" r="7.8" fill="#FF0000" fill-opacity="0.8"/>
<line x1="745.18" y1="2233" x2="745.18" y2="2275.25" stroke="#333333" stroke-width="3.1" stroke-linecap="butt"/>
<line x1="745.18" y1="2325.25" x2="745.18" y2="2366" stroke="#333333" stroke-width="3.1" stroke-linecap="butt"/>
<rect x="725.76" y="2275.25" width="38.84" height="50" fill="#ADD8E6" fill-opacity="0.8" stroke="#333333" stroke-width="3.1" stroke-linejoin="miter"/>
<line x1="725.76" y1="2301" x2="764.6" y2="2301" stroke="#333333" stroke-width="5.6" stroke-linecap="butt"/>
<rect x="775.3" y="2113.5" width="22.62" height="7" rx="2.2" fill="#333333"/>
<line x1="807.32" y1="2246.5" x2="807.32" y2="2250" stroke="#333333" stroke-width="3.1" stroke-linecap="butt"/>
<line x1="807.32" y1="2280.75" x2="807.32" y2="2295.75" stroke="#333333" stroke-width="3.1" stroke-linecap="butt"/>
<rect x="797.61" y="2250" width="19.42" height="30.75" fill="#ADD8E6" fill-opacity="0.8" stroke="#333333" stroke-width="3.1" stroke-linejoin="miter"/>
<line x1="797.61" y1="2265.75" x2="817.02" y2="2265.75" stroke="#333333" stroke-width="5.6" stroke-linecap="butt"/>
<circle cx="807.32" cy="2170.75" r="7.8" fill="#FF0000" fill-opacity="0.8"/>
<line x1="838.38" y1="1966" x2="838.38" y2="1969.5" stroke="#333333" stroke-width="3.1" stroke-linecap="butt"/>
<line x1="838.38" y1="1977.5" x2="838.38" y2="1981" stroke="#333333" stroke-width="3.1" stroke-linecap="butt"/>
<rect x="828.68" y="1969.5" width="19.42" height="8" fill="#333333" fill-opacity="1" stroke="#333333" stroke-width="3.1" stroke-linejoin="miter"/>
<line x1="828.68" y1="1973.5" x2="848.09" y2="1973.5" stroke="#333333" stroke-width="5.6" stroke-linecap="butt"/>
<line x1="859.1" y1="2234.25" x2="859.1" y2="2277.75" stroke="#333333" stroke-width="3.1" stroke-linecap="butt"/>
<line x1="859.1" y1="2322.25" x2="859.1" y2="2372" stroke="#333333" stroke-width="3.1" stroke-linecap="butt"/>
<rect x="849.39" y="2277.75" width="19.42" height="44.5" fill="#ADD8E6" fill-opacity="0.8" stroke="#333333" stroke-width="3.1" stroke-linejoin="miter"/>
<line x1="849.39" y1="2302" x2="868.8" y2="2302" stroke="#333333" stroke-width="5.6" stroke-linecap="butt"/>
<line x1="890.16" y1="1958.25" x2="890.16" y2="2060.25" stroke="#333333" stroke-width="3.1" stroke-linecap="butt"/>
<line x1="890.16" y1="2220" x2="890.16" y2="2248" stroke="#333333" stroke-width="3.1" stroke-linecap="butt"/>
<rect x="880.46" y="2060.25" width="19.42" height="159.75" fill="#1E96E0" fill-opacity="0.8" stroke="#333333" stroke-width="3.1" stroke-linejoin="miter"/>
<line x1="880.46" y1="2136.5" x2="899.87" y2="2136.5" stroke="#333333" stroke-width="5.6" stroke-linecap="butt"/>
<line x1="910.88" y1="2198.25" x2="910.88" y2="2242.25" stroke="#333333" stroke-width="3.1" stroke-linecap="butt"/>
<line x1="910.88" y1="2305.25" x2="910.88" y2="2378" stroke="#333333" stroke-width="3.1" stroke-linecap="butt"/>
<rect x="901.17" y="2242.25" width="19.42" height="63" fill="#ADD8E6" fill-opacity="0.8" stroke="#333333" stroke-width="3.1" stroke-linejoin="miter"/>
<line x1="901.17" y1="2284.25" x2="920.58" y2="2284.25" stroke="#333333" stroke-width="5.6" stroke-linecap="butt"/>
<circle cx="910.88" cy="2127.5" r="7.8" fill="#FF0000" fill-opacity="0.8"/>
<line x1="941.94" y1="2190" x2="941.94" y2="2204.75" stroke="#333333" stroke-width="3.1" stroke-linecap="butt"/>
<line x1="941.94" y1="2279.25" x2="941.94" y2="2302.5" stroke="#333333" stroke-width="3.1" stroke-linecap="butt"/>
<rect x="932.24" y="2204.75" width="19.42" height="74.5" fill="#1E96E0" fill-opacity="0.8" stroke="#333333" stroke-width="3.1" stroke-linejoin="miter"/>
<line x1="932.24" y1="2268.75" x2="951.65" y2="2268.75" stroke="#333333" stroke-width="5.6" stroke-linecap="butt"/>
<line x1="962.66" y1="2225" x2="962.66" y2="2257.5" stroke="#333333" stroke-width="3.1" stroke-linecap="butt"/>
<line x1="962.66" y1="2315" x2="962.66" y2="2343.5" stroke="#333333" stroke-width="3.1" stroke-linecap="butt"/>
<rect x="952.95" y="2257.5" width="19.42" height="57.5" fill="#ADD8E6" fill-opacity="0.8" stroke="#333333" stroke-width="3.1" stroke-linejoin="miter"/>
<line x1="952.95" y1="2298.75" x2="972.36" y2="2298.75" stroke="#333333" stroke-width="5.6" stroke-linecap="butt"/>
<line x1="403.6" y1="1800.1" x2="403.6" y2="2411.8" stroke="#000" stroke-width="4.1" stroke-linecap="butt"/>
<line x1="403.6" y1="2411.8" x2="983.25" y2="2411.8" stroke="#000" stroke-width="4.1" stroke-linecap="butt"/>
<line x1="392.5" y1="1807.3" x2="403.6" y2="1807.3" stroke="#000" stroke-width="4.1" stroke-linecap="butt"/>
<text x="383.2" y="1819.5" font-size="35" text-anchor="end">15</text>
<line x1="392.5" y1="2006.9" x2="403.6" y2="2006.9" stroke="#000" stroke-width="4.1" stroke-linecap="butt"/>
<text x="383.2" y="2019.1" font-size="35" text-anchor="end">10</text>
<line x1="392.5" y1="2206.5" x2="403.6" y2="2206.5" stroke="#000" stroke-width="4.1" stroke-linecap="butt"/>
<text x="383.2" y="2218.7" font-size="35" text-anchor="end">5</text>
<line x1="392.5" y1="2406.1" x2="403.6" y2="2406.1" stroke="#000" stroke-width="4.1" stroke-linecap="butt"/>
<text x="383.2" y="2418.3" font-size="35" text-anchor="end">0</text>
<line x1="434.5" y1="2411.8" x2="434.5" y2="2422.9" stroke="#000" stroke-width="4.1" stroke-linecap="butt"/>
<text x="450.2" y="2449.6" font-size="35" text-anchor="end" letter-spacing="-0.6" transform="rotate(-45 450.2 2449.6)">2010</text>
<line x1="486.28" y1="2411.8" x2="486.28" y2="2422.9" stroke="#000" stroke-width="4.1" stroke-linecap="butt"/>
<text x="501.98" y="2449.6" font-size="35" text-anchor="end" letter-spacing="-0.6" transform="rotate(-45 501.98 2449.6)">2011</text>
<line x1="538.06" y1="2411.8" x2="538.06" y2="2422.9" stroke="#000" stroke-width="4.1" stroke-linecap="butt"/>
<text x="553.76" y="2449.6" font-size="35" text-anchor="end" letter-spacing="-0.6" transform="rotate(-45 553.76 2449.6)">2014</text>
<line x1="589.84" y1="2411.8" x2="589.84" y2="2422.9" stroke="#000" stroke-width="4.1" stroke-linecap="butt"/>
<text x="605.54" y="2449.6" font-size="35" text-anchor="end" letter-spacing="-0.6" transform="rotate(-45 605.54 2449.6)">2016</text>
<line x1="641.62" y1="2411.8" x2="641.62" y2="2422.9" stroke="#000" stroke-width="4.1" stroke-linecap="butt"/>
<text x="657.32" y="2449.6" font-size="35" text-anchor="end" letter-spacing="-0.6" transform="rotate(-45 657.32 2449.6)">2017</text>
<line x1="693.4" y1="2411.8" x2="693.4" y2="2422.9" stroke="#000" stroke-width="4.1" stroke-linecap="butt"/>
<text x="709.1" y="2449.6" font-size="35" text-anchor="end" letter-spacing="-0.6" transform="rotate(-45 709.1 2449.6)">2018</text>
<line x1="745.18" y1="2411.8" x2="745.18" y2="2422.9" stroke="#000" stroke-width="4.1" stroke-linecap="butt"/>
<text x="760.88" y="2449.6" font-size="35" text-anchor="end" letter-spacing="-0.6" transform="rotate(-45 760.88 2449.6)">2019</text>
<line x1="796.96" y1="2411.8" x2="796.96" y2="2422.9" stroke="#000" stroke-width="4.1" stroke-linecap="butt"/>
<text x="812.66" y="2449.6" font-size="35" text-anchor="end" letter-spacing="-0.6" transform="rotate(-45 812.66 2449.6)">2020</text>
<line x1="848.74" y1="2411.8" x2="848.74" y2="2422.9" stroke="#000" stroke-width="4.1" stroke-linecap="butt"/>
<text x="864.44" y="2449.6" font-size="35" text-anchor="end" letter-spacing="-0.6" transform="rotate(-45 864.44 2449.6)">2021</text>
<line x1="900.52" y1="2411.8" x2="900.52" y2="2422.9" stroke="#000" stroke-width="4.1" stroke-linecap="butt"/>
<text x="916.22" y="2449.6" font-size="35" text-anchor="end" letter-spacing="-0.6" transform="rotate(-45 916.22 2449.6)">2022</text>
<line x1="952.3" y1="2411.8" x2="952.3" y2="2422.9" stroke="#000" stroke-width="4.1" stroke-linecap="butt"/>
<text x="968" y="2449.6" font-size="35" text-anchor="end" letter-spacing="-0.6" transform="rotate(-45 968 2449.6)">2023</text>
<rect x="1206.45" y="2054.5" width="51.82" height="31.9" fill="#1E96E0" fill-opacity="0.8" stroke="#333333" stroke-width="3.1" stroke-linejoin="miter"/>
<line x1="1206.45" y1="2058.3" x2="1258.27" y2="2058.3" stroke="#333333" stroke-width="5.6" stroke-linecap="butt"/>
<circle cx="1232.36" cy="1971.5" r="7.8" fill="#FF0000" fill-opacity="0.8"/>
<circle cx="1232.36" cy="2136.75" r="7.8" fill="#FF0000" fill-opacity="0.8"/>
<line x1="1287.64" y1="2180" x2="1287.64" y2="2260.5" stroke="#333333" stroke-width="3.1" stroke-linecap="butt"/>
<line x1="1287.64" y1="2314.5" x2="1287.64" y2="2378" stroke="#333333" stroke-width="3.1" stroke-linecap="butt"/>
<rect x="1261.73" y="2260.5" width="51.82" height="54" fill="#ADD8E6" fill-opacity="0.8" stroke="#333333" stroke-width="3.1" stroke-linejoin="miter"/>
<line x1="1261.73" y1="2291.75" x2="1313.55" y2="2291.75" stroke="#333333" stroke-width="5.6" stroke-linecap="butt"/>
<circle cx="1287.64" cy="2151.25" r="7.8" fill="#FF0000" fill-opacity="0.8"/>
<circle cx="1287.64" cy="2162" r="7.8" fill="#FF0000" fill-opacity="0.8"/>
<circle cx="1287.64" cy="2173.5" r="7.8" fill="#FF0000" fill-opacity="0.8"/>
<circle cx="1287.64" cy="2175.5" r="7.8" fill="#FF0000" fill-opacity="0.8"/>
<line x1="1370.56" y1="1924" x2="1370.56" y2="2033" stroke="#333333" stroke-width="3.1" stroke-linecap="butt"/>
<line x1="1370.56" y1="2227.5" x2="1370.56" y2="2302.75" stroke="#333333" stroke-width="3.1" stroke-linecap="butt"/>
<rect x="1344.65" y="2033" width="51.82" height="194.5" fill="#1E96E0" fill-opacity="0.8" stroke="#333333" stroke-width="3.1" stroke-linejoin="miter"/>
<line x1="1344.65" y1="2157.75" x2="1396.47" y2="2157.75" stroke="#333333" stroke-width="5.6" stroke-linecap="butt"/>
<line x1="1425.84" y1="2157" x2="1425.84" y2="2255" stroke="#333333" stroke-width="3.1" stroke-linecap="butt"/>
<line x1="1425.84" y1="2328.75" x2="1425.84" y2="2383.75" stroke="#333333" stroke-width="3.1" stroke-linecap="butt"/>
<rect x="1399.93" y="2255" width="51.82" height="73.75" fill="#ADD8E6" fill-opacity="0.8" stroke="#333333" stroke-width="3.1" stroke-linejoin="miter"/>
<line x1="1399.93" y1="2301.5" x2="1451.75" y2="2301.5" stroke="#333333" stroke-width="5.6" stroke-linecap="butt"/>
<circle cx="1425.84" cy="2099.5" r="7.8" fill="#FF0000" fill-opacity="0.8"/>
<circle cx="1425.84" cy="2132.75" r="7.8" fill="#FF0000" fill-opacity="0.8"/>
<line x1="1508.76" y1="1961.75" x2="1508.76" y2="2016.75" stroke="#333333" stroke-width="3.1" stroke-linecap="butt"/>
<rect x="1482.85" y="2016.75" width="51.82" height="102.25" fill="#1E96E0" fill-opacity="0.8" stroke="#333333" stroke-width="3.1" stroke-linejoin="miter"/>
<line x1="1482.85" y1="2056.5" x2="1534.67" y2="2056.5" stroke="#333333" stroke-width="5.6" stroke-linecap="butt"/>
<circle cx="1508.76" cy="2278.75" r="7.8" fill="#FF0000" fill-opacity="0.8"/>
<line x1="1564.04" y1="2049.25" x2="1564.04" y2="2058" stroke="#333333" stroke-width="3.1" stroke-linecap="butt"/>
<line x1="1564.04" y1="2262.5" x2="1564.04" y2="2318.5" stroke="#333333" stroke-width="3.1" stroke-linecap="butt"/>
<rect x="1538.13" y="2058" width="51.82" height="204.5" fill="#ADD8E6" fill-opacity="0.8" stroke="#333333" stroke-width="3.1" stroke-linejoin="miter"/>
<line x1="1538.13" y1="2152.5" x2="1589.95" y2="2152.5" stroke="#333333" stroke-width="5.6" stroke-linecap="butt"/>
<line x1="1646.96" y1="1827" x2="1646.96" y2="2028.75" stroke="#333333" stroke-width="3.1" stroke-linecap="butt"/>
<line x1="1646.96" y1="2187.75" x2="1646.96" y2="2301" stroke="#333333" stroke-width="3.1" stroke-linecap="butt"/>
<rect x="1621.05" y="2028.75" width="51.82" height="159" fill="#1E96E0" fill-opacity="0.8" stroke="#333333" stroke-width="3.1" stroke-linejoin="miter"/>
<line x1="1621.05" y1="2129.25" x2="1672.87" y2="2129.25" stroke="#333333" stroke-width="5.6" stroke-linecap="butt"/>
<line x1="1702.24" y1="2089.75" x2="1702.24" y2="2181.25" stroke="#333333" stroke-width="3.1" stroke-linecap="butt"/>
<line x1="1702.24" y1="2262.25" x2="1702.24" y2="2314" stroke="#333333" stroke-width="3.1" stroke-linecap="butt"/>
<rect x="1676.33" y="2181.25" width="51.82" height="81" fill="#ADD8E6" fill-opacity="0.8" stroke="#333333" stroke-width="3.1" stroke-linejoin="miter"/>
<line x1="1676.33" y1="2231.25" x2="1728.15" y2="2231.25" stroke="#333333" stroke-width="5.6" stroke-linecap="butt"/>
<line x1="1177.1" y1="1800.1" x2="1177.1" y2="2411.8" stroke="#000" stroke-width="4.1" stroke-linecap="butt"/>
<line x1="1177.1" y1="2411.8" x2="1757" y2="2411.8" stroke="#000" stroke-width="4.1" stroke-linecap="butt"/>
<line x1="1166" y1="1807.3" x2="1177.1" y2="1807.3" stroke="#000" stroke-width="4.1" stroke-linecap="butt"/>
<text x="1156.7" y="1819.5" font-size="35" text-anchor="end">15</text>
<line x1="1166" y1="2006.9" x2="1177.1" y2="2006.9" stroke="#000" stroke-width="4.1" stroke-linecap="butt"/>
<text x="1156.7" y="2019.1" font-size="35" text-anchor="end">10</text>
<line x1="1166" y1="2206.5" x2="1177.1" y2="2206.5" stroke="#000" stroke-width="4.1" stroke-linecap="butt"/>
<text x="1156.7" y="2218.7" font-size="35" text-anchor="end">5</text>
<line x1="1166" y1="2406.1" x2="1177.1" y2="2406.1" stroke="#000" stroke-width="4.1" stroke-linecap="butt"/>
<text x="1156.7" y="2418.3" font-size="35" text-anchor="end">0</text>
<line x1="1260" y1="2411.8" x2="1260" y2="2422.9" stroke="#000" stroke-width="4.1" stroke-linecap="butt"/>
<text x="1260" y="2455.7" font-size="35" text-anchor="middle">A</text>
<line x1="1398.2" y1="2411.8" x2="1398.2" y2="2422.9" stroke="#000" stroke-width="4.1" stroke-linecap="butt"/>
<text x="1398.2" y="2455.7" font-size="35" text-anchor="middle">W</text>
<line x1="1536.4" y1="2411.8" x2="1536.4" y2="2422.9" stroke="#000" stroke-width="4.1" stroke-linecap="butt"/>
<text x="1536.4" y="2455.7" font-size="35" text-anchor="middle">Sp</text>
<line x1="1674.6" y1="2411.8" x2="1674.6" y2="2422.9" stroke="#000" stroke-width="4.1" stroke-linecap="butt"/>
<text x="1674.6" y="2455.7" font-size="35" text-anchor="middle">S</text>
</svg>
</body></html>
